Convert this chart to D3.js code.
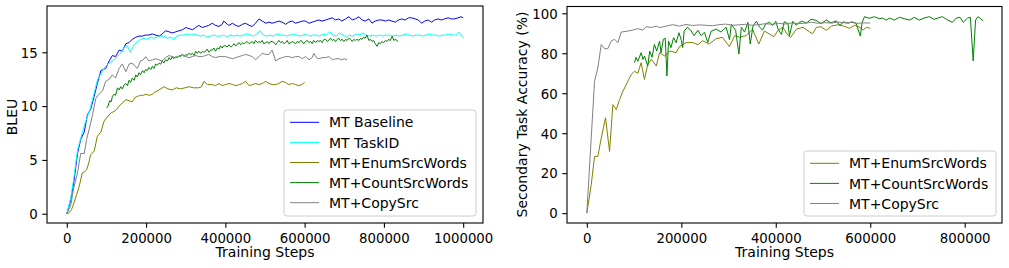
<!DOCTYPE html>
<html><head><meta charset="utf-8">
<script src="https://cdn.jsdelivr.net/npm/d3@7"></script>
<style>
body{margin:0;background:#fff}
svg{display:block;background:#fff}
text{font-family:"DejaVu Sans",sans-serif;fill:#000}
</style>
</head><body>
<svg id="chart" width="1009" height="268"></svg>
<script>
// ---------- DATA (steps in thousands of training steps) ----------
const bleuBaseline = [[0,0],[10,1.3],[18,3.0],[27,5.6],[35,6.9],[44,7.6],[52,9.2],[60,9.7],[69,10.9],[77,12.1],[86,13.3],[98,13.5],[107,14.2],[115,14.7],[123,14.6],[132,15.2],[140,15.1],[149,15.8],[157,15.9],[165,16.2],[174,16.4],[182,16.5],[190,16.5],[199,16.6],[207,16.6],[216,16.7],[224,16.6],[233,16.5],[241,16.7],[249,17.0],[258,16.9],[266,16.8],[275,16.9],[283,17.0],[292,17.1],[300,17.3],[308,17.2],[317,17.1],[325,17.3],[333,17.5],[342,17.3],[350,17.4],[358,17.5],[367,17.7],[375,17.5],[384,17.4],[392,17.6],[396,17.9],[405,17.6],[409,17.5],[418,17.7],[426,17.5],[434,17.4],[443,17.6],[451,17.7],[460,17.5],[468,17.4],[476,17.7],[485,18.1],[493,17.9],[502,17.7],[510,17.8],[518,17.7],[527,17.8],[535,17.9],[543,17.8],[552,17.6],[560,17.8],[569,17.9],[577,17.7],[586,17.8],[594,17.9],[602,17.9],[611,17.7],[619,17.8],[627,17.9],[636,18.0],[644,17.9],[653,18.0],[661,18.1],[670,18.2],[678,18.0],[686,18.1],[694,17.9],[703,18.1],[712,18.3],[720,18.0],[728,18.1],[737,18.3],[745,18.0],[753,17.9],[762,18.1],[770,17.7],[778,17.9],[787,18.0],[795,18.0],[804,17.9],[812,18.0],[820,17.9],[829,17.8],[837,18.0],[845,18.1],[854,18.0],[862,18.2],[870,18.2],[879,18.1],[887,18.0],[895,17.7],[903,17.9],[912,18.0],[920,17.8],[928,18.0],[937,18.1],[945,18.0],[953,18.1],[962,18.2],[970,18.1],[978,18.1],[987,18.2],[995,18.3],[1000,18.2]];

const bleuTaskID = [[0,0],[10,1.5],[18,3.4],[27,5.9],[35,7.0],[44,8.2],[52,9.0],[60,9.9],[69,11.2],[77,12.4],[86,13.0],[94,13.5],[103,13.9],[111,14.1],[119,14.3],[128,14.6],[136,14.9],[145,15.5],[153,15.6],[160,15.0],[170,15.7],[178,16.0],[186,16.2],[195,16.3],[203,16.2],[211,16.4],[220,16.3],[228,16.4],[237,16.5],[245,16.5],[253,16.3],[262,16.4],[270,16.2],[278,16.5],[287,16.6],[295,16.6],[304,16.7],[312,16.6],[320,16.7],[329,16.6],[337,16.5],[345,16.6],[354,16.4],[362,16.5],[370,16.6],[379,16.5],[387,16.5],[396,16.6],[404,16.4],[412,16.6],[421,16.5],[429,16.6],[437,16.5],[446,16.6],[454,16.7],[463,16.6],[471,16.5],[479,16.7],[488,17.0],[496,16.6],[504,16.5],[513,16.6],[521,16.5],[530,16.7],[538,16.6],[546,16.6],[555,16.5],[563,16.6],[571,16.7],[580,16.6],[588,16.5],[596,16.6],[605,16.7],[613,16.5],[621,16.6],[630,16.6],[638,16.5],[647,16.7],[655,16.6],[663,16.9],[672,16.6],[680,16.5],[688,16.8],[697,16.6],[705,16.4],[713,16.6],[722,16.5],[730,16.7],[739,16.6],[747,16.8],[755,16.6],[764,16.5],[772,16.6],[780,16.5],[789,16.6],[797,16.5],[805,16.6],[814,16.6],[822,16.5],[830,16.6],[839,16.5],[847,16.6],[856,16.7],[864,16.6],[872,16.5],[881,16.6],[889,16.6],[897,16.5],[906,16.6],[914,16.7],[922,16.6],[931,16.6],[939,16.5],[947,16.6],[956,16.6],[964,16.7],[972,16.6],[981,16.6],[989,16.9],[995,16.6],[1000,16.3]];

const bleuEnum = [[0,0],[6,0.1],[12,0.4],[18,1.0],[25,1.8],[31,2.5],[39,3.8],[45,3.9],[50,4.1],[56,4.8],[60,5.5],[69,5.8],[77,7.2],[86,7.6],[94,8.6],[100,8.9],[107,9.2],[113,9.4],[119,9.5],[126,9.7],[132,10.0],[140,10.3],[149,10.6],[157,10.5],[165,10.4],[172,10.8],[178,10.9],[186,11.0],[193,11.0],[199,11.1],[208,11.0],[216,11.1],[222,11.3],[228,11.4],[237,11.6],[245,11.8],[255,11.6],[266,11.5],[276,11.7],[287,11.6],[298,11.7],[308,11.8],[320,11.7],[333,11.7],[340,11.8],[346,12.3],[355,12.0],[367,12.0],[375,11.9],[384,12.1],[392,11.9],[400,12.0],[410,12.1],[418,12.0],[427,11.9],[435,12.0],[443,12.1],[451,12.3],[460,11.9],[468,12.0],[476,12.1],[485,12.0],[493,12.1],[502,12.3],[510,12.1],[518,12.0],[527,12.0],[535,12.1],[543,12.3],[552,12.2],[560,12.0],[569,12.1],[577,12.0],[585,11.9],[593,12.0],[600,12.2]];

const bleuCount = [[100,9.8],[104,10.0],[108,10.5],[112,10.4],[115,10.9],[119,11.1],[123,11.0],[128,11.7],[132,11.5],[136,11.8],[140,11.6],[145,12.0],[149,12.1],[153,11.9],[157,12.4],[161,12.2],[165,12.6],[170,12.4],[174,12.9],[178,12.7],[182,13.1],[186,12.9],[191,13.3],[195,13.1],[199,13.4],[203,13.3],[207,13.6],[212,13.4],[216,13.7],[220,13.5],[224,13.9],[228,13.8],[233,14.0],[237,13.9],[241,14.2],[245,14.0],[249,14.3],[254,14.2],[258,14.5],[262,14.3],[266,14.6],[270,14.4],[275,14.6],[279,14.5],[283,14.7],[287,14.6],[292,14.8],[296,14.6],[300,14.8],[304,14.7],[308,14.9],[313,14.8],[317,14.9],[321,14.7],[325,15.1],[329,14.9],[333,15.1],[338,14.9],[342,15.1],[346,15.0],[350,15.1],[354,15.3],[359,15.0],[363,15.2],[367,15.2],[371,15.4],[375,15.1],[380,15.4],[384,15.3],[388,15.6],[392,15.4],[396,15.6],[400,15.6],[405,15.5],[409,15.7],[413,15.5],[418,15.6],[422,15.8],[426,15.6],[430,15.7],[434,15.9],[439,15.7],[443,15.9],[447,15.8],[451,15.9],[455,16.0],[460,15.8],[464,15.9],[468,16.0],[472,15.8],[476,16.1],[481,15.9],[485,16.0],[489,15.9],[493,16.1],[497,15.8],[502,15.9],[506,16.0],[510,15.8],[514,16.0],[518,16.0],[523,15.9],[527,15.7],[531,15.9],[535,16.1],[539,15.9],[544,16.0],[548,15.8],[552,15.9],[556,16.1],[560,15.8],[565,15.9],[569,16.0],[573,15.9],[577,15.8],[581,16.0],[586,15.9],[590,16.1],[594,16.0],[598,15.8],[602,16.0],[607,16.1],[611,15.9],[615,16.0],[619,15.8],[623,16.1],[628,15.9],[632,16.1],[636,16.0],[640,16.1],[644,15.9],[649,16.2],[653,16.2],[657,16.0],[661,16.1],[665,16.3],[670,16.1],[674,16.2],[678,16.0],[682,16.2],[686,16.3],[690,16.1],[695,16.2],[699,16.0],[703,16.2],[707,16.1],[711,16.3],[716,16.2],[720,16.0],[724,16.2],[728,16.1],[732,16.2],[737,16.1],[741,16.3],[745,16.2],[749,16.4],[753,16.3],[757,16.6],[762,16.1],[766,16.2],[770,16.0],[774,16.1],[778,15.8],[783,15.55],[787,15.9],[791,15.8],[795,16.0],[799,15.9],[804,16.1],[808,16.0],[812,16.2],[816,16.1],[821,16.5],[825,16.1],[829,16.2],[833,16.1],[836,16.0]];

const bleuCopy = [[0,0],[10,0.8],[18,2.5],[27,3.8],[35,5.6],[44,5.6],[50,6.9],[56,7.8],[65,9.2],[73,10.7],[81,11.1],[90,11.4],[98,12.3],[107,12.5],[115,12.9],[123,12.6],[132,13.5],[140,13.9],[149,13.2],[157,13.9],[165,14.0],[172,13.7],[178,13.5],[186,14.2],[193,14.3],[199,14.6],[207,14.2],[216,14.3],[224,14.4],[232,14.3],[240,14.2],[249,14.5],[258,14.7],[266,14.6],[275,14.5],[283,14.6],[291,14.8],[300,14.6],[308,14.5],[317,14.6],[325,14.7],[333,14.6],[342,14.6],[350,14.7],[358,14.8],[367,14.6],[375,14.5],[384,14.6],[392,14.6],[400,14.6],[409,14.5],[418,14.4],[426,14.5],[434,14.6],[443,14.7],[451,14.8],[460,14.7],[468,14.6],[476,14.3],[485,14.6],[493,14.9],[502,14.8],[510,14.8],[518,15.2],[527,14.2],[535,14.4],[543,14.5],[552,14.6],[560,14.6],[569,14.5],[577,14.6],[586,14.6],[594,14.4],[602,14.6],[611,14.3],[619,14.5],[623,14.9],[630,14.5],[636,14.4],[644,14.5],[653,14.5],[661,14.6],[670,14.3],[678,14.4],[686,14.4],[694,14.3],[700,14.4],[707,14.3]];

const accEnum = [[0,0],[9.3,14.2],[16.3,28.4],[23.3,28.4],[30.5,37.6],[39.6,47.7],[48.1,30.9],[55.1,54.3],[62.3,51.8],[69.3,56.8],[76.3,61.0],[86.9,66.0],[94,69.4],[101,71.0],[108,70.0],[115,75.3],[122,66.9],[129,74.5],[136.5,77.0],[147,73.6],[154,80.3],[165,78.6],[175,81.1],[189,80.3],[196,83.3],[210,85.3],[224,85.4],[235,84.3],[245,86.3],[259,84.6],[273,87.2],[287,88.0],[302,83.3],[313,88.8],[323,88.0],[337,88.8],[351,92.0],[364,84.6],[376,91.1],[387,89.6],[396,88.3],[405,91.5],[415,93.0],[424,89.6],[431,87.8],[444,92.1],[458,93.0],[472,90.6],[478,89.8],[486,93.0],[496,93.2],[507,91.5],[518,93.6],[533,94.3],[544,93.6],[556,92.5],[567,94.0],[578,93.0],[585,91.6],[592,93.0],[600,92.5]];

const accCount = [[101,75.3],[104,78.0],[108,76.0],[115,80.3],[119,76.9],[122,78.6],[129,73.6],[133,81.1],[138,78.0],[143,84.4],[148,81.1],[154,86.1],[157,80.3],[162,87.0],[166,87.5],[169.5,68.6],[173,86.1],[178,82.8],[183.7,87.8],[189,85.3],[195,90.3],[200,86.5],[203,82.9],[206,91.1],[213,93.0],[220,91.5],[227,88.8],[235,91.5],[242,88.8],[249,90.5],[256,85.4],[263,91.0],[274,92.1],[284,90.6],[295,93.0],[302,86.8],[306,94.5],[315,91.5],[322,79.6],[327,93.0],[334,90.6],[341,95.5],[346,84.6],[352,93.8],[359,96.0],[366,93.0],[372,91.6],[379,94.8],[387,95.5],[393,93.8],[400,96.0],[405,92.0],[412,89.4],[418,95.8],[426,94.8],[429,88.8],[436,96.0],[443,94.0],[450,95.5],[457,96.0],[464,95.0],[475,97.0],[485,96.5],[496,94.8],[507,96.6],[517,95.2],[528,96.2],[536,93.8],[543,95.8],[553,95.0],[561,95.8],[570,95.0],[579,88.6],[583,95.6],[588,98.3],[598,97.5],[609,98.3],[619,97.3],[626,97.6],[634,96.6],[641,97.6],[651,96.6],[662,98.0],[672,97.3],[684,96.6],[693,98.0],[704,96.6],[714,97.6],[725,98.3],[735,97.0],[743,97.6],[753,98.3],[764,96.6],[774,95.5],[782,97.6],[790,98.0],[797,95.5],[806,97.6],[812,98.0],[818,76.2],[823,96.6],[828,98.3],[832,97.6],[839,96.2]];

const accCopy = [[0,0],[16.3,66.0],[23.3,72.7],[30.5,84.4],[37.5,82.3],[44.5,82.3],[51.7,86.1],[58.7,87.0],[65.7,85.3],[72.9,90.6],[86.9,91.1],[97.5,91.6],[108,92.3],[118.7,91.6],[125.9,93.3],[136.5,92.9],[147,93.6],[154,92.8],[168,93.6],[182,94.3],[196,93.6],[210,94.4],[224,93.9],[238,94.2],[252,94.0],[266,93.8],[280,94.3],[294,94.6],[308,94.0],[322,94.2],[336,94.5],[350,94.0],[364,94.3],[378,94.8],[392,94.5],[406,95.0],[420,94.6],[434,95.2],[448,94.8],[462,95.1],[476,95.5],[490,95.0],[504,95.3],[518,95.1],[532,95.6],[546,95.2],[560,95.4],[574,95.0],[588,95.2],[600,95.1]];

const bleuLabels = ["MT Baseline","MT TaskID","MT+EnumSrcWords","MT+CountSrcWords","MT+CopySrc"];
const accLabels = ["MT+EnumSrcWords","MT+CountSrcWords","MT+CopySrc"];
const bleuXTicks = [0,200,400,600,800,1000];
const bleuYTicks = [0,5,10,15];
const accXTicks = [0,200,400,600,800];
const accYTicks = [0,20,40,60,80,100];
const xAxisTitle = "Training Steps";
const bleuYTitle = "BLEU";
const accYTitle = "Secondary Task Accuracy (%)";

// ---------- DRAWING ----------
const FS_TICK = 13.3, FS = 14;
const svg = d3.select("#chart");
const TICK = 4.7, PAD = 4.7;

function panel(o){
  const g = svg.append("g");
  const x = d3.scaleLinear().domain(o.xDomain).range([o.left, o.right]);
  const y = d3.scaleLinear().domain(o.yDomain).range([o.bottom, o.top]);
  const clipId = "clip" + o.left;
  svg.append("clipPath").attr("id", clipId).append("rect")
    .attr("x", o.left).attr("y", o.top).attr("width", o.right-o.left).attr("height", o.bottom-o.top);
  const line = d3.line().x(d => x(d[0])).y(d => y(d[1]));
  o.series.forEach(s => {
    g.append("path").datum(s.data).attr("d", line)
      .attr("fill","none").attr("stroke", s.color).attr("stroke-width", 1)
      .attr("stroke-linejoin","round").attr("clip-path", `url(#${clipId})`);
  });
  const xa = g.append("g").attr("transform", `translate(0,${o.bottom})`)
    .call(d3.axisBottom(x).tickValues(o.xTicks).tickFormat(d => String(d*1000)).tickSize(TICK).tickPadding(PAD));
  const ya = g.append("g").attr("transform", `translate(${o.left},0)`)
    .call(d3.axisLeft(y).tickValues(o.yTicks).tickFormat(d3.format("d")).tickSize(TICK).tickPadding(PAD));
  [xa, ya].forEach(a => {
    a.select(".domain").remove();
    a.selectAll("line").attr("stroke","#000").attr("stroke-width",1.1);
    a.selectAll("text").attr("font-size", FS_TICK).attr("font-family","DejaVu Sans").attr("fill","#000");
  });
  xa.selectAll("text").attr("dy", null).attr("y", 20.3);
  ya.selectAll("text").attr("dy", "0.36em");
  g.append("rect").attr("x", o.left).attr("y", o.top).attr("width", o.right-o.left).attr("height", o.bottom-o.top)
    .attr("fill","none").attr("stroke","#000").attr("stroke-width",1.1);
  g.append("text").attr("x", (o.left+o.right)/2).attr("y", 257).attr("text-anchor","middle")
    .attr("font-size", FS).text(xAxisTitle);
  g.append("text").attr("transform", `translate(${o.yTitleX},${o.yTitleY}) rotate(-90)`)
    .attr("text-anchor","middle").attr("dominant-baseline","central").attr("font-size", FS).text(o.yTitle);
  const lg = g.append("g");
  lg.append("rect").attr("x", o.legend.x).attr("y", o.legend.y).attr("width", o.legend.w).attr("height", o.legend.h)
    .attr("rx", 2.8).attr("fill","#fff").attr("fill-opacity",0.8).attr("stroke","#cccccc").attr("stroke-width",1);
  o.series.forEach((s,i) => {
    const yy = o.legend.y + 12.3 + i*20.1;
    lg.append("line").attr("x1", o.legend.x+6).attr("x2", o.legend.x+35).attr("y1", yy).attr("y2", yy)
      .attr("stroke", s.color).attr("stroke-width", 1);
    lg.append("text").attr("x", o.legend.x+45).attr("y", yy+5.1).attr("font-size", FS).text(s.label);
  });
}

panel({
  left:47, right:483, top:6, bottom:223,
  xDomain:[-50,1050], yDomain:[-0.86,19.3],
  xTicks:bleuXTicks, yTicks:bleuYTicks, yTitle:bleuYTitle, yTitleX:12, yTitleY:117,
  series:[
    {data:bleuBaseline, color:"#0000ff", label:bleuLabels[0]},
    {data:bleuTaskID, color:"#00ffff", label:bleuLabels[1]},
    {data:bleuEnum, color:"#808000", label:bleuLabels[2]},
    {data:bleuCount, color:"#008000", label:bleuLabels[3]},
    {data:bleuCopy, color:"#808080", label:bleuLabels[4]}
  ],
  legend:{x:284, y:110, w:192, h:106}
});

panel({
  left:567, right:1002, top:6.5, bottom:223,
  xDomain:[-42,879], yDomain:[-4.93,103.4],
  xTicks:accXTicks, yTicks:accYTicks, yTitle:accYTitle, yTitleX:522, yTitleY:114.5,
  series:[
    {data:accEnum, color:"#808000", label:accLabels[0]},
    {data:accCount, color:"#008000", label:accLabels[1]},
    {data:accCopy, color:"#808080", label:accLabels[2]}
  ],
  legend:{x:804, y:151, w:192, h:65}
});
</script>
</body></html>
